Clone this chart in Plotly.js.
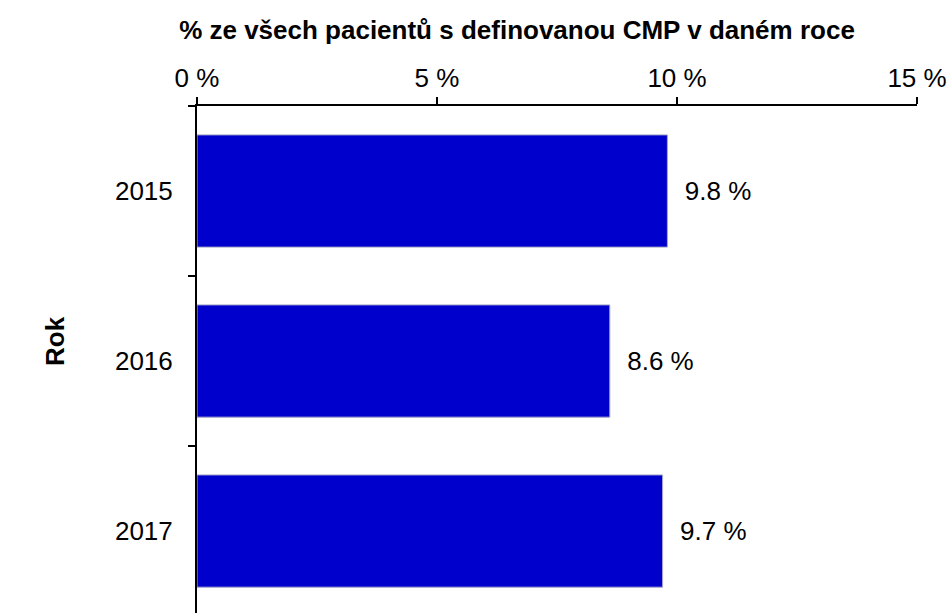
<!DOCTYPE html>
<html>
<head>
<meta charset="utf-8">
<script src="https://cdn.plot.ly/plotly-3.0.1.min.js"></script>
<style>html,body{margin:0;padding:0;background:#fff}#chart{width:951px;height:613px}</style>
</head>
<body>
<div id="chart"></div>
<script>
const years = ["2015", "2016", "2017"];
const shares = [9.8, 8.6, 9.7];
const barLabels = ["9.8 %", "8.6 %", "9.7 %"];
const xTickVals = [0, 5, 10, 15];
const xTickText = ["0 %", "5 %", "10 %", "15 %"];

const font = "Liberation Sans, Arial, sans-serif";

const trace = {
  type: "bar",
  orientation: "h",
  y: years,
  x: shares,
  text: barLabels.map(function (s) { return "\u00a0\u00a0" + s; }),
  textposition: "outside",
  textfont: {family: font, size: 26, color: "#000"},
  constraintext: "none",
  cliponaxis: false,
  width: 0.66,
  marker: {color: "#0000cc", line: {color: "#a8a8c8", width: 1}},
  hoverinfo: "none"
};

const layout = {
  width: 951, height: 613,
  margin: {l: 197, r: 34, t: 106, b: 0},
  paper_bgcolor: "#fff", plot_bgcolor: "#fff",
  font: {family: font, size: 26, color: "#000"},
  showlegend: false,
  title: {
    text: "<b>% ze všech pacientů s definovanou CMP v daném roce</b>",
    font: {family: font, size: 26, color: "#000"},
    xref: "container", yref: "container",
    x: 517 / 951, xanchor: "center",
    y: 1 - 30 / 613, yanchor: "middle"
  },
  xaxis: {
    side: "top",
    range: [0, 15],
    tickvals: xTickVals,
    ticktext: xTickText,
    ticks: "outside", ticklen: 7, tickwidth: 1.5, tickcolor: "#000",
    showline: true, linecolor: "#000", linewidth: 2,
    showgrid: false, zeroline: false,
    tickfont: {family: font, size: 26}
  },
  yaxis: {
    type: "category",
    range: [2.482, -0.5],
    tickson: "boundaries",
    ticks: "outside", ticklen: 7, tickwidth: 1.5, tickcolor: "#000",
    showline: true, linecolor: "#000", linewidth: 2,
    showgrid: false, zeroline: false,
    tickfont: {family: font, size: 26},
    ticklabelstandoff: 17
  },
  annotations: [{
    text: "<b>Rok</b>", textangle: -90,
    xref: "paper", yref: "paper",
    x: (55 - 197) / 720, y: (613 - 341) / 507,
    xanchor: "center", yanchor: "middle",
    showarrow: false,
    font: {family: font, size: 26, color: "#000"}
  }]
};

Plotly.newPlot("chart", [trace], layout, {displayModeBar: false, staticPlot: true});
</script>
</body>
</html>
